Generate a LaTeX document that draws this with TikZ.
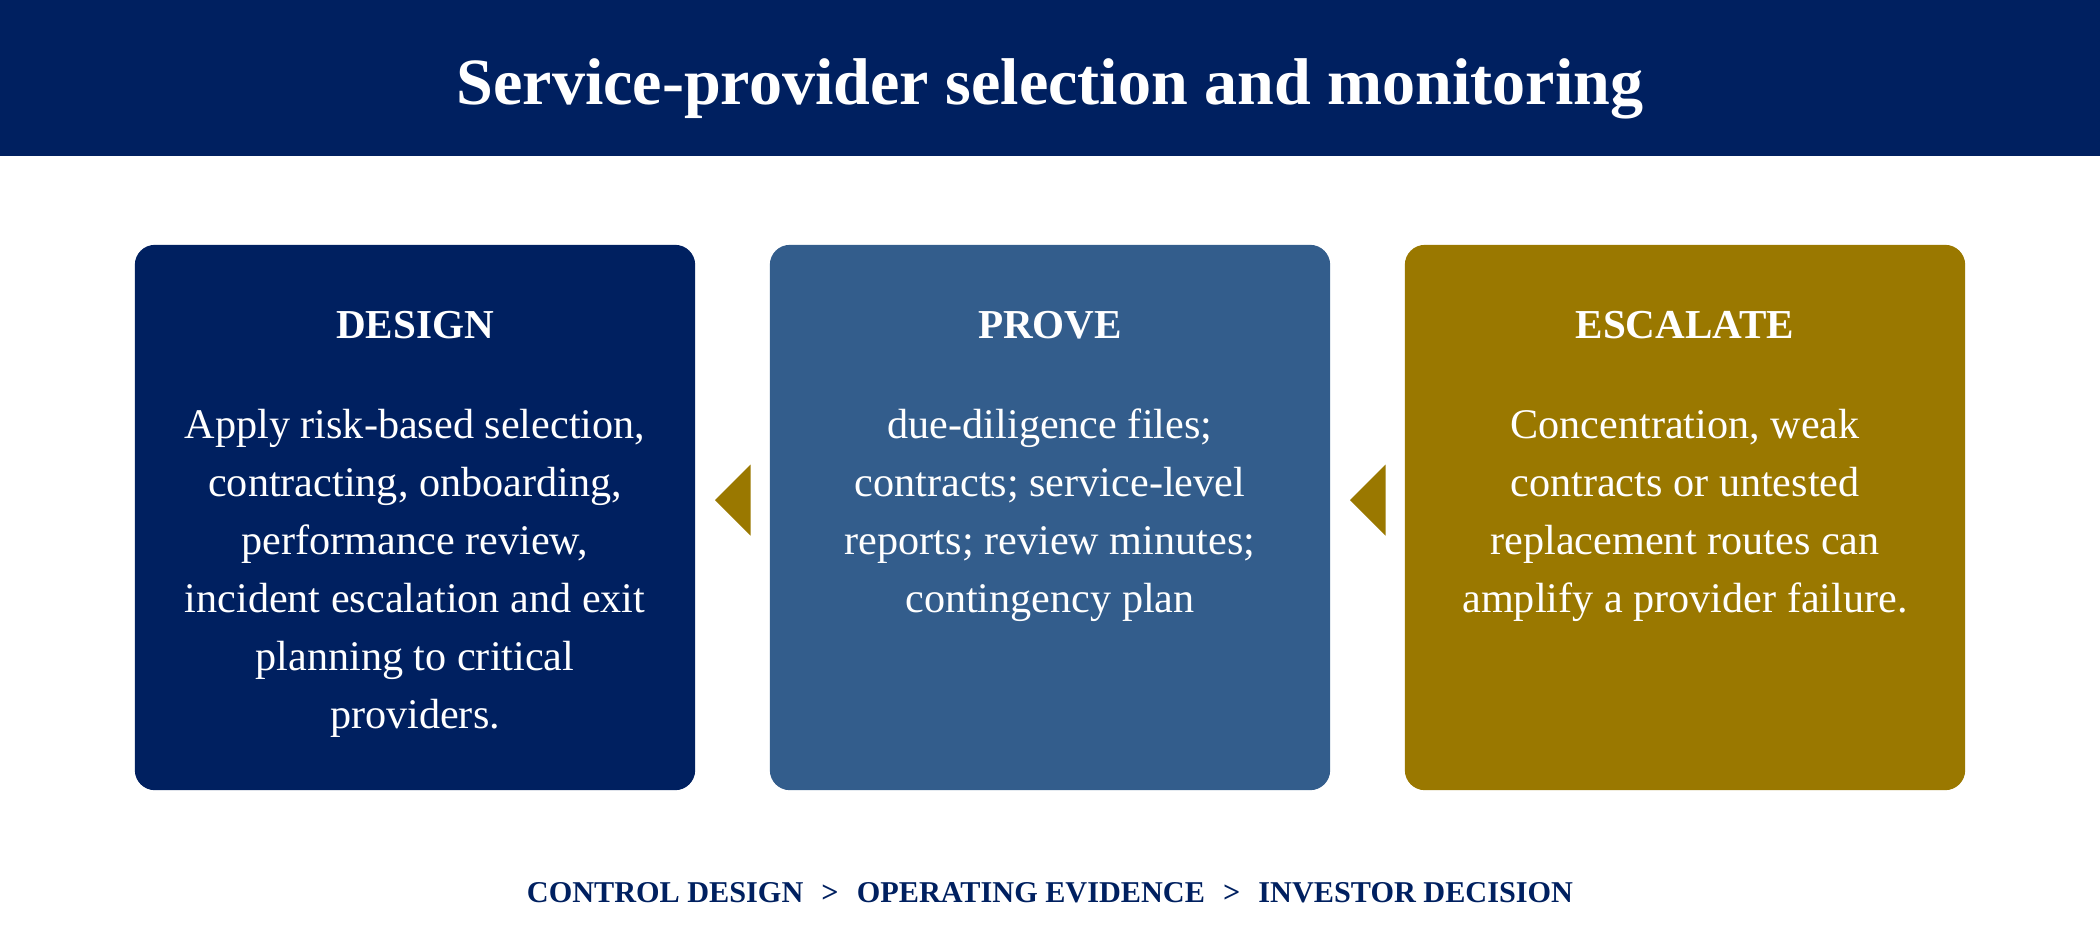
\documentclass[tikz,border=0pt]{standalone}
\usepackage{fontspec}
\setmainfont{Liberation Serif}
\definecolor{navyblue}{RGB}{0,32,96}
\definecolor{steelblue}{RGB}{51,93,140}
\definecolor{goldbrown}{RGB}{154,120,0}
\usetikzlibrary{positioning, calc}

\begin{document}
\begin{tikzpicture}[x=0.01cm, y=-0.01cm,
    card/.style={rounded corners=0.2cm, minimum width=5.6cm, minimum height=5.45cm, inner sep=0pt},
    cardhead/.style={anchor=base, text=white, font=\fontsize{11.7}{14}\selectfont\bfseries},
    cardbody/.style={anchor=north, inner sep=0pt, text=white, align=center, font=\fontsize{12}{16.5}\selectfont}]
  \useasboundingbox (0,0) rectangle (2100,950);

  % banner
  \fill[navyblue] (0,0) rectangle (2100,156);
  \node[anchor=base, text=white, font=\fontsize{18.8}{22}\selectfont\bfseries] (title) at (1050,104)
    {Service-provider selection and monitoring};

  % three cards
  \node[card, fill=navyblue] (design) at (415,517.5) {};
  \node[card, fill=steelblue] (prove) at (1050,517.5) {};
  \node[card, fill=goldbrown] (escalate) at (1685,517.5) {};

  \node[cardhead] (designhead) at (415,338) {DESIGN};
  \node[cardhead] (provehead) at (1050,338) {PROVE};
  \node[cardhead] (escalatehead) at (1685,338) {ESCALATE};

  \node[cardbody] (designtext) at (415,408) {Apply risk-based selection,\\ contracting, onboarding,\\ performance review,\\ incident escalation and exit\\ planning to critical\\ providers.};
  \node[cardbody] (provetext) at (1050,408) {due-diligence files;\\ contracts; service-level\\ reports; review minutes;\\ contingency plan};
  \node[cardbody] (escalatetext) at (1685,408) {Concentration, weak\\ contracts or untested\\ replacement routes can\\ amplify a provider failure.};

  % pointers between cards
  \foreach \a/\b in {design/prove, prove/escalate} {
    \coordinate (gap) at ($(\a.east)!0.5!(\b.west)$);
    \fill[goldbrown] ($(gap)+(-17.5,-17.5)$) -- ($(gap)+(18,-53)$) -- ($(gap)+(18,18)$) -- cycle;
  }

  \node[anchor=base, text=navyblue, font=\fontsize{8.6}{10}\selectfont\bfseries] (flow) at (1050,902)
    {CONTROL DESIGN\hspace{0.6em}>\hspace{0.6em}OPERATING EVIDENCE\hspace{0.6em}>\hspace{0.6em}INVESTOR DECISION};
\end{tikzpicture}
\end{document}
